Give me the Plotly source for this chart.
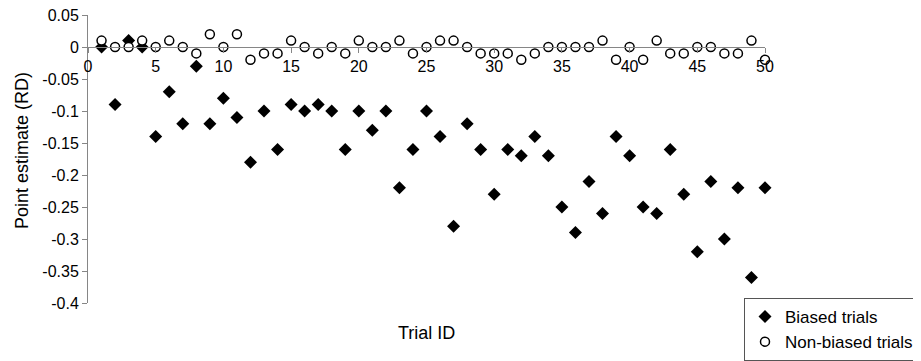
import plotly.graph_objects as go

trial_ids = list(range(1, 51))
biased = [0, -0.09, 0.01, 0, -0.14, -0.07, -0.12, -0.03, -0.12, -0.08,
          -0.11, -0.18, -0.10, -0.16, -0.09, -0.10, -0.09, -0.10, -0.16, -0.10,
          -0.13, -0.10, -0.22, -0.16, -0.10, -0.14, -0.28, -0.12, -0.16, -0.23,
          -0.16, -0.17, -0.14, -0.17, -0.25, -0.29, -0.21, -0.26, -0.14, -0.17,
          -0.25, -0.26, -0.16, -0.23, -0.32, -0.21, -0.30, -0.22, -0.36, -0.22]
non_biased = [0.01, 0, 0, 0.01, 0, 0.01, 0, -0.01, 0.02, 0,
              0.02, -0.02, -0.01, -0.01, 0.01, 0, -0.01, 0, -0.01, 0.01,
              0, 0, 0.01, -0.01, 0, 0.01, 0.01, 0, -0.01, -0.01,
              -0.01, -0.02, -0.01, 0, 0, 0, 0, 0.01, -0.02, 0,
              -0.02, 0.01, -0.01, -0.01, 0, 0, -0.01, -0.01, 0.01, -0.02]
y_tickvals = [0.05, 0, -0.05, -0.1, -0.15, -0.2, -0.25, -0.3, -0.35, -0.4]
y_ticktext = ["0.05", "0", "-0.05", "-0.1", "-0.15", "-0.2", "-0.25", "-0.3", "-0.35", "-0.4"]
x_tickvals = [0, 5, 10, 15, 20, 25, 30, 35, 40, 45, 50]

FONT = "Liberation Sans, Arial, sans-serif"
AXIS_COLOR = "#868686"

fig = go.Figure()
fig.add_trace(go.Scatter(
    x=trial_ids, y=biased, mode="markers", name="Biased trials",
    marker=dict(symbol="diamond", size=10, color="black"),
    cliponaxis=False,
))
fig.add_trace(go.Scatter(
    x=trial_ids, y=non_biased, mode="markers", name="Non-biased trials",
    marker=dict(symbol="circle", size=9, color="white",
                line=dict(color="black", width=1.5)),
    cliponaxis=False,
))

ymin, ymax = -0.4, 0.05
zero_pos = (0 - ymin) / (ymax - ymin)
PW, PH = 677, 288  # plot area size in pixels

fig.update_layout(
    width=913, height=353,
    margin=dict(l=80, r=156, t=7, b=58, autoexpand=False),
    paper_bgcolor="white", plot_bgcolor="white",
    font=dict(family=FONT, size=16, color="black"),
    showlegend=True,
    legend=dict(
        x=(919 - 88) / PW, y=(303 - 298) / PH, xanchor="right", yanchor="top",
        bordercolor="#555555", borderwidth=1, bgcolor="white",
        font=dict(size=17, family=FONT),
        itemsizing="trace",
        tracegroupgap=0,
    ),
    xaxis=dict(
        range=[0, 50], tickvals=x_tickvals,
        showline=True, linecolor=AXIS_COLOR, linewidth=1,
        ticks="outside", ticklen=5, tickcolor=AXIS_COLOR,
        showgrid=False, zeroline=False, automargin=False,
        ticklabeloverflow="allow",
        anchor="free", position=zero_pos,
        tickfont=dict(size=16, family=FONT),
    ),
    yaxis=dict(
        range=[ymin, ymax], tickvals=y_tickvals, ticktext=y_ticktext,
        showline=True, linecolor=AXIS_COLOR, linewidth=1,
        ticks="outside", ticklen=5, tickcolor=AXIS_COLOR,
        showgrid=False, zeroline=False, automargin=False,
        ticklabeloverflow="allow",
        tickfont=dict(size=16, family=FONT),
    ),
    annotations=[
        dict(text="Point estimate (RD)", xref="paper", yref="paper",
             x=(22 - 88) / PW, y=(303 - 151) / PH, textangle=-90,
             showarrow=False, xanchor="center", yanchor="middle",
             font=dict(size=18, family=FONT)),
        dict(text="Trial ID", xref="paper", yref="paper",
             x=0.5, y=(303 - 333) / PH,
             showarrow=False, xanchor="center", yanchor="middle",
             font=dict(size=18, family=FONT)),
    ],
)

fig.write_html("out.html")
